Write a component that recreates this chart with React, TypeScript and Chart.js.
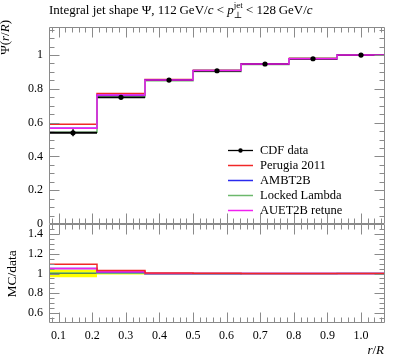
import { useEffect, useRef } from "react";
import { Chart, registerables } from "chart.js";

Chart.register(...registerables);

// ---------- data ----------
const binEdges = [0.0714, 0.2143, 0.3571, 0.5, 0.6429, 0.7857, 0.9286, 1.0714];
const binCenters = [0.1429, 0.2857, 0.4286, 0.5714, 0.7143, 0.8571, 1.0];

const cdfData = [0.54, 0.75, 0.852, 0.907, 0.947, 0.978, 1.0];
const cdfErr = [0.021, 0.008, 0.005, 0.004, 0.003, 0.002, 0.001];

const perugia2011 = [0.59, 0.773, 0.856, 0.909, 0.948, 0.979, 1.0];
const ambt2b = [0.567, 0.762, 0.853, 0.907, 0.947, 0.977, 1.0];
const lockedLambda = [0.543, 0.751, 0.848, 0.903, 0.944, 0.975, 1.0];
const auet2b = [0.567, 0.763, 0.853, 0.908, 0.947, 0.978, 1.0];

const yTicksMain = [0, 0.2, 0.4, 0.6, 0.8, 1];
const yTickLabelsMain = ["0", "0.2", "0.4", "0.6", "0.8", "1"];
const yTicksRatio = [0.6, 0.8, 1, 1.2, 1.4];
const yTickLabelsRatio = ["0.6", "0.8", "1", "1.2", "1.4"];
const xTicks = [0.1, 0.2, 0.3, 0.4, 0.5, 0.6, 0.7, 0.8, 0.9, 1.0];
const xTickLabels = ["0.1", "0.2", "0.3", "0.4", "0.5", "0.6", "0.7", "0.8", "0.9", "1.0"];

const legendLabels = ["CDF data", "Perugia 2011", "AMBT2B", "Locked Lambda", "AUET2B retune"];

// ---------- styles ----------
const FONT = "'Liberation Serif', 'DejaVu Serif', serif";
const FRAME = "#8a8a8a";
const C_DATA = "#000000";
const C_RED = "#f02828";
const C_BLUE = "#2a2aee";
const C_GREEN = "#6cb86c";
const C_MAG = "#f020f0";
const C_BAND = "#ffff00";
const W = 397;
const H = 358;

type Pt = { x: number; y: number | null };

function steps(values: number[]): Pt[] {
  return binEdges.map((e, i) => ({ x: e, y: values[Math.min(i, values.length - 1)] }));
}
function hSegments(values: number[]): Pt[] {
  const pts: Pt[] = [];
  values.forEach((v, i) => {
    pts.push({ x: binEdges[i], y: v }, { x: binEdges[i + 1], y: v }, { x: binEdges[i + 1], y: null });
  });
  return pts;
}
function vErrors(values: number[], errs: number[]): Pt[] {
  const pts: Pt[] = [];
  values.forEach((v, i) => {
    pts.push({ x: binCenters[i], y: v - errs[i] }, { x: binCenters[i], y: v + errs[i] }, { x: binCenters[i], y: null });
  });
  return pts;
}
const ratio = (vals: number[]) => vals.map((v, i) => v / cdfData[i]);

function stepLine(data: Pt[], color: string, order: number, width = 1.5) {
  return {
    data,
    borderColor: color,
    backgroundColor: color,
    borderWidth: width,
    pointRadius: 0,
    stepped: true,
    fill: false,
    tension: 0,
    order,
  };
}

function drawTicks(chart: any, yMajor: number[], yMinorK: [number, number, number]) {
  const { ctx, chartArea: a, scales } = chart;
  const xs = scales.x;
  const ys = scales.y;
  const L = Math.round(a.left) + 0.5;
  const R = Math.round(a.right) - 0.5;
  const T = Math.round(a.top) + 0.5;
  const B = Math.round(a.bottom) - 0.5;
  ctx.save();
  ctx.strokeStyle = FRAME;
  ctx.lineWidth = 1;
  ctx.beginPath();
  ctx.rect(L, T, R - L, B - T);
  for (let k = 4; k <= 53; k++) {
    const v = k * 0.02;
    const len = k % 5 === 0 ? 10 : 5;
    const px = Math.round(xs.getPixelForValue(v)) + 0.5;
    ctx.moveTo(px, B);
    ctx.lineTo(px, B - len);
    ctx.moveTo(px, T);
    ctx.lineTo(px, T + len);
  }
  const [k0, k1, step] = yMinorK;
  for (let k = k0; k <= k1; k++) {
    const v = k * step;
    const isMajor = yMajor.some((m) => Math.abs(m - v) < 1e-6);
    const len = isMajor ? 10 : 5;
    const py = Math.round(ys.getPixelForValue(v)) + 0.5;
    if (py < T + 0.1 || py > B - 0.1) continue;
    ctx.moveTo(L, py);
    ctx.lineTo(L + len, py);
    ctx.moveTo(R, py);
    ctx.lineTo(R - len, py);
  }
  ctx.stroke();
  ctx.restore();
}

type Part = { t: string; italic?: boolean; sup?: string; sub?: string };
function drawRich(ctx: CanvasRenderingContext2D, x: number, y: number, parts: Part[], size: number) {
  let cx = x;
  ctx.textBaseline = "alphabetic";
  ctx.textAlign = "left";
  for (const p of parts) {
    if (p.sup !== undefined || p.sub !== undefined) {
      const s = Math.round(size * 0.7);
      ctx.font = `${s}px ${FONT}`;
      const w1 = p.sup ? ctx.measureText(p.sup).width : 0;
      const w2 = p.sub ? ctx.measureText(p.sub).width : 0;
      if (p.sup) ctx.fillText(p.sup, cx, y - size * 0.45);
      if (p.sub) ctx.fillText(p.sub, cx, y + size * 0.3);
      cx += Math.max(w1, w2);
      continue;
    }
    ctx.font = `${p.italic ? "italic " : ""}${size}px ${FONT}`;
    ctx.fillText(p.t, cx, y);
    cx += ctx.measureText(p.t).width;
  }
}
function richWidth(ctx: CanvasRenderingContext2D, parts: Part[], size: number) {
  let w = 0;
  for (const p of parts) {
    ctx.font = `${p.italic ? "italic " : ""}${size}px ${FONT}`;
    w += ctx.measureText(p.t).width;
  }
  return w;
}

function mainConfig(): any {
  const tickFont = { family: FONT, size: 12 };
  return {
    type: "line",
    data: {
      datasets: [
        {
          data: cdfData.map((v, i) => ({ x: binCenters[i], y: v })),
          showLine: false,
          pointRadius: 2.6,
          pointBackgroundColor: C_DATA,
          pointBorderColor: C_DATA,
          pointBorderWidth: 0,
          order: 0,
        },
        { ...stepLine(vErrors(cdfData, cdfErr), C_DATA, 1, 1.5), stepped: false },
        stepLine(steps(auet2b), C_MAG, 2),
        { ...stepLine(hSegments(cdfData), C_DATA, 2.5, 1.8), stepped: false },
        stepLine(steps(lockedLambda), C_GREEN, 3),
        stepLine(steps(ambt2b), C_BLUE, 4),
        stepLine(steps(perugia2011), C_RED, 5),
      ],
    },
    options: {
      responsive: false,
      animation: false,
      devicePixelRatio: 1,
      events: [],
      layout: { padding: { top: 27, right: 12, bottom: H - 224, left: 0 } },
      plugins: { legend: { display: false }, tooltip: { enabled: false }, title: { display: false } },
      scales: {
        x: { type: "linear", min: binEdges[0], max: binEdges[binEdges.length - 1], display: false },
        y: {
          type: "linear",
          min: 0,
          max: 1.166,
          grid: { display: false, drawTicks: false },
          border: { display: false },
          afterFit: (s: any) => {
            s.width = 49;
          },
          afterBuildTicks: (s: any) => {
            s.ticks = yTicksMain.map((v) => ({ value: v }));
          },
          ticks: {
            font: tickFont,
            color: "#000",
            padding: 6,
            callback: (_v: any, i: number) => yTickLabelsMain[i],
          },
        },
      },
    },
    plugins: [
      {
        id: "mainDecor",
        afterDatasetsDraw(chart: any) {
          drawTicks(chart, yTicksMain, [1, 23, 0.05]);
        },
        afterDraw(chart: any) {
          const ctx = chart.ctx as CanvasRenderingContext2D;
          ctx.save();
          ctx.fillStyle = "#000";
          drawRich(
            ctx,
            49,
            14,
            [
              { t: "Integral jet shape Ψ, 112\u2009GeV/" },
              { t: "c", italic: true },
              { t: " < " },
              { t: "p", italic: true },
              { t: "", sup: "jet", sub: "⊥" },
              { t: " < 128\u2009GeV/" },
              { t: "c", italic: true },
            ],
            13
          );
          ctx.save();
          const yl: Part[] = [{ t: "Ψ(" }, { t: "r", italic: true }, { t: "/" }, { t: "R", italic: true }, { t: ")" }];
          const wsum = richWidth(ctx, yl, 13);
          ctx.translate(9, 20);
          ctx.rotate(-Math.PI / 2);
          drawRich(ctx, -wsum, 0, yl, 13);
          ctx.restore();
          const colors = [C_DATA, C_RED, C_BLUE, C_GREEN, C_MAG];
          legendLabels.forEach((lab, i) => {
            const y = 150 + i * 15;
            ctx.strokeStyle = colors[i];
            ctx.lineWidth = i === 0 ? 1.3 : 1.5;
            ctx.beginPath();
            ctx.moveTo(228, y + 0.5);
            ctx.lineTo(253, y + 0.5);
            ctx.stroke();
            if (i === 0) {
              ctx.fillStyle = "#000";
              ctx.beginPath();
              ctx.arc(240.5, y + 0.5, 2.2, 0, Math.PI * 2);
              ctx.fill();
            }
            ctx.font = `12.5px ${FONT}`;
            ctx.textAlign = "left";
            ctx.textBaseline = "middle";
            ctx.fillStyle = "#000";
            ctx.fillText(lab, 260, y + 0.5);
          });
          ctx.restore();
        },
      },
    ],
  };
}

function ratioConfig(): any {
  const tickFont = { family: FONT, size: 12 };
  const relErr = cdfErr.map((e, i) => e / cdfData[i]);
  const bandLow = relErr.map((r) => 1 - r);
  const bandHigh = relErr.map((r) => 1 + r);
  const ones = cdfData.map((v) => v / v);
  return {
    type: "line",
    data: {
      datasets: [
        { ...stepLine(steps(ratio(perugia2011)), C_RED, 1) },
        { ...stepLine(steps(ratio(auet2b)), C_MAG, 2) },
        { ...stepLine(steps(ratio(ambt2b)), C_BLUE, 3) },
        { ...stepLine(steps(ratio(lockedLambda)), C_GREEN, 4) },
        { ...stepLine(steps(ones), C_DATA, 5, 1.2) },
        { ...stepLine(steps(bandLow), C_BAND, 6, 0), fill: false },
        { ...stepLine(steps(bandHigh), C_BAND, 6, 0), fill: "-1", backgroundColor: C_BAND },
      ],
    },
    options: {
      responsive: false,
      animation: false,
      devicePixelRatio: 1,
      events: [],
      layout: { padding: { top: 224, right: 12, bottom: 0, left: 0 } },
      plugins: { legend: { display: false }, tooltip: { enabled: false }, title: { display: false } },
      scales: {
        x: {
          type: "linear",
          min: binEdges[0],
          max: binEdges[binEdges.length - 1],
          grid: { display: false, drawTicks: false },
          border: { display: false },
          afterFit: (s: any) => {
            s.height = H - 323;
          },
          afterBuildTicks: (s: any) => {
            s.ticks = xTicks.map((v) => ({ value: v }));
          },
          ticks: {
            font: tickFont,
            color: "#000",
            padding: 6,
            maxRotation: 0,
            autoSkip: false,
            callback: (_v: any, i: number) => xTickLabels[i],
          },
        },
        y: {
          type: "linear",
          min: 0.5,
          max: 1.5,
          grid: { display: false, drawTicks: false },
          border: { display: false },
          afterFit: (s: any) => {
            s.width = 49;
          },
          afterBuildTicks: (s: any) => {
            s.ticks = yTicksRatio.map((v) => ({ value: v }));
          },
          ticks: {
            font: tickFont,
            color: "#000",
            padding: 6,
            callback: (_v: any, i: number) => yTickLabelsRatio[i],
          },
        },
      },
    },
    plugins: [
      {
        id: "ratioDecor",
        afterDatasetsDraw(chart: any) {
          drawTicks(chart, yTicksRatio, [10, 30, 0.05]);
        },
        afterDraw(chart: any) {
          const ctx = chart.ctx as CanvasRenderingContext2D;
          ctx.save();
          ctx.fillStyle = "#000";
          ctx.save();
          ctx.font = `13.5px ${FONT}`;
          ctx.translate(15.5, 274);
          ctx.rotate(-Math.PI / 2);
          ctx.textAlign = "center";
          ctx.textBaseline = "alphabetic";
          ctx.fillText("MC/data", 0, 0);
          ctx.restore();
          const xl: Part[] = [{ t: "r", italic: true }, { t: "/" }, { t: "R", italic: true }];
          const wsum = richWidth(ctx, xl, 13);
          drawRich(ctx, 384 - wsum, 354, xl, 13);
          ctx.restore();
        },
      },
    ],
  };
}

export default function App() {
  const mainRef = useRef<HTMLCanvasElement>(null);
  const ratioRef = useRef<HTMLCanvasElement>(null);
  useEffect(() => {
    document.body.style.margin = "0";
    const c1 = new Chart(mainRef.current!, mainConfig());
    const c2 = new Chart(ratioRef.current!, ratioConfig());
    return () => {
      c1.destroy();
      c2.destroy();
    };
  }, []);
  return (
    <div style={{ position: "relative", width: W, height: H, background: "#fff" }}>
      <canvas ref={mainRef} width={W} height={H} style={{ position: "absolute", left: 0, top: 0 }} />
      <canvas ref={ratioRef} width={W} height={H} style={{ position: "absolute", left: 0, top: 0 }} />
    </div>
  );
}
